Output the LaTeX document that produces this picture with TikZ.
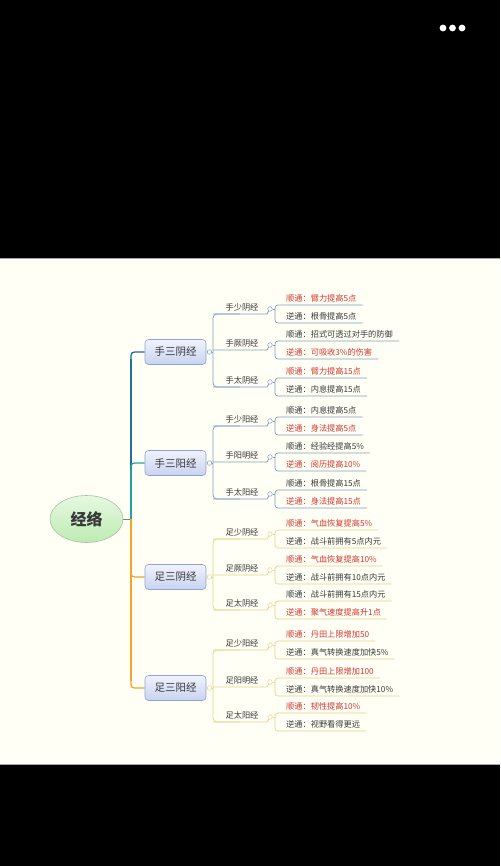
\documentclass[tikz,border=0pt]{standalone}
\usepackage{fontspec}
\setmainfont{Noto Sans CJK SC}
\usetikzlibrary{shapes.geometric}
\definecolor{cream}{HTML}{FFFFF6}
\definecolor{trunkblue}{HTML}{1F6E9C}
\definecolor{trunkteal}{HTML}{21A39B}
\definecolor{trunkorange}{HTML}{F2A52A}
\definecolor{lineblue}{HTML}{7FA3B8}
\definecolor{lineyellow}{HTML}{E6D48A}
\definecolor{leafred}{HTML}{D2362F}
\definecolor{leafdark}{HTML}{383838}
\definecolor{boxborder}{HTML}{8FA3CC}
\definecolor{boxtop}{HTML}{F0F3FD}
\definecolor{boxbot}{HTML}{C8D3F0}
\definecolor{rootborder}{HTML}{A6C2A6}
\definecolor{roottop}{HTML}{E6F9E0}
\definecolor{rootbot}{HTML}{BDEBB3}
\tikzset{
  knob/.style={circle,inner sep=0pt,minimum size=4.6pt,fill=white,line width=0.5pt},
  leaf/.style={anchor=west,inner sep=0pt,font=\fontsize{8.2}{9}\selectfont},
  sublabel/.style={inner sep=0pt,font=\fontsize{8.2}{9}\selectfont,text=leafdark},
  l1box/.style={draw=boxborder,line width=0.6pt,rounded corners=3.5pt,top color=boxtop,bottom color=boxbot,
    minimum width=61pt,minimum height=25pt,inner sep=0pt,font=\fontsize{10.5}{12}\selectfont,text=leafdark},
  rootnode/.style={ellipse,draw=rootborder,line width=0.6pt,top color=roottop,bottom color=rootbot,
    minimum width=73pt,minimum height=47pt,inner sep=0pt,font=\fontsize{16}{18}\selectfont\bfseries,text=leafdark},
}
% #1 group id, #2 sub id, #3 label y, #4 label, #5 leaf A, #6 colour A, #7 leaf B, #8 colour B, #9 line colour
\newcommand\mmsub[9]{%
  \node[sublabel] (S#1#2) at (242,#3) {#4};
  \node[knob,draw=#9] (K#1#2) at (270,#3+2) {};
  \node[leaf,text=#6] (L#1#2a) at (286,#3-9) {#5};
  \node[leaf,text=#8] (L#1#2b) at (286,#3+9) {#7};
  \coordinate (U#1#2) at (213,#3+7);
  \coordinate (E#1#2) at (267,#3+7);
  \coordinate (Q#1#2) at (275,#3+2);
  \draw[#9,line width=0.8pt] (U#1#2) -- (E#1#2) -- (K#1#2);
  \draw[#9,line width=0.7pt] (K#1#2) -- (Q#1#2);
  \draw[#9,line width=0.7pt,rounded corners=3pt] ([shift={(6,7)}]L#1#2a.east) -- (275,#3-2) -- (275,#3+16) -- ([shift={(6,7)}]L#1#2b.east);
}
% #1 id, #2 box y, #3 text, #4 line colour, #5 first label y, #6 last label y
\newcommand\mmbox[6]{%
  \node[l1box] (B#1) at (175.5,#2) {#3};
  \node[knob,draw=#4] (BK#1) at (209.5,#2) {};
  \coordinate (V#1) at (213,#2);
  \draw[#4,line width=0.8pt] (BK#1) -- (V#1);
  \draw[#4,line width=0.8pt,rounded corners=4pt] (240,#5+7) -- (213,#5+7) -- (213,#6+7) -- (240,#6+7);
}
\begin{document}
\begin{tikzpicture}[x=1pt,y=-1pt]
\useasboundingbox (0,0) rectangle (500,866);
\fill[black] (0,0) rectangle (500,866);
\fill[cream] (0,258) rectangle (500,764);
\draw[gray!70,line width=0.8pt] (0,258) -- (500,258);
\draw[gray!70,line width=0.8pt] (0,764) -- (500,764);
\fill[white] (443,28) circle (3.4pt);
\fill[white] (452.5,28) circle (3.4pt);
\fill[white] (462,28) circle (3.4pt);

% root
\node[rootnode] (root) at (86.5,519) {经络};
\coordinate (T) at (131,519);
\draw[gray,line width=0.7pt] (root.east) -- (T);

% level 1 boxes
\mmbox{1}{352}{手三阴经}{lineblue}{307}{380}
\mmbox{2}{463}{手三阳经}{lineblue}{419}{492}
\mmbox{3}{577}{足三阴经}{lineyellow}{532}{603}
\mmbox{4}{688}{足三阳经}{lineyellow}{643}{715}

% trunk
\coordinate (C1) at (131,359);
\coordinate (C2) at (131,470);
\coordinate (C3) at (131,570);
\coordinate (C4) at (131,681);
\draw[trunkblue,line width=2.8pt] (T) -- (C1);
\draw[trunkblue,line width=1.3pt] (C1) .. controls (131,352) .. (139,352) -- (B1.west);
\draw[trunkteal,line width=2.8pt] (T) -- (C2);
\draw[trunkteal,line width=1.3pt] (C2) .. controls (131,463) .. (139,463) -- (B2.west);
\draw[trunkorange,line width=2.8pt] (T) -- (C4);
\draw[trunkorange,line width=1.3pt] (C4) .. controls (131,688) .. (139,688) -- (B4.west);
\draw[trunkorange,line width=2.8pt] (T) -- (C3);
\draw[trunkorange,line width=1.3pt] (C3) .. controls (131,577) .. (139,577) -- (B3.west);

% group 1
\mmsub{1}{1}{307}{手少阴经}{顺通：臂力提高5点}{leafred}{逆通：根骨提高5点}{leafdark}{lineblue}
\mmsub{1}{2}{343}{手厥阴经}{顺通：招式可透过对手的防御}{leafdark}{逆通：可吸收3\%的伤害}{leafred}{lineblue}
\mmsub{1}{3}{380}{手太阴经}{顺通：臂力提高15点}{leafred}{逆通：内息提高15点}{leafdark}{lineblue}
% group 2
\mmsub{2}{1}{419}{手少阳经}{顺通：内息提高5点}{leafdark}{逆通：身法提高5点}{leafred}{lineblue}
\mmsub{2}{2}{455}{手阳明经}{顺通：经验经提高5\%}{leafdark}{逆通：阅历提高10\%}{leafred}{lineblue}
\mmsub{2}{3}{492}{手太阳经}{顺通：根骨提高15点}{leafdark}{逆通：身法提高15点}{leafred}{lineblue}
% group 3
\mmsub{3}{1}{532}{足少阴经}{顺通：气血恢复提高5\%}{leafred}{逆通：战斗前拥有5点内元}{leafdark}{lineyellow}
\mmsub{3}{2}{568}{足厥阴经}{顺通：气血恢复提高10\%}{leafred}{逆通：战斗前拥有10点内元}{leafdark}{lineyellow}
\mmsub{3}{3}{603}{足太阴经}{顺通：战斗前拥有15点内元}{leafdark}{逆通：聚气速度提高升1点}{leafred}{lineyellow}
% group 4
\mmsub{4}{1}{643}{足少阳经}{顺通：丹田上限增加50}{leafred}{逆通：真气转换速度加快5\%}{leafdark}{lineyellow}
\mmsub{4}{2}{680}{足阳明经}{顺通：丹田上限增加100}{leafred}{逆通：真气转换速度加快10\%}{leafdark}{lineyellow}
\mmsub{4}{3}{715}{足太阳经}{顺通：韧性提高10\%}{leafred}{逆通：视野看得更远}{leafdark}{lineyellow}
\end{tikzpicture}
\end{document}
